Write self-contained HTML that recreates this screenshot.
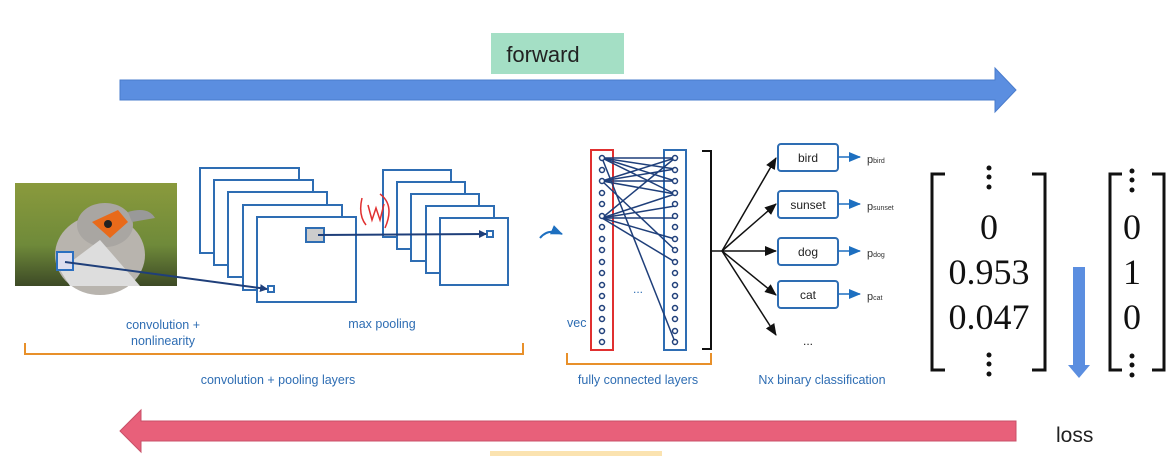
<!DOCTYPE html>
<html><head><meta charset="utf-8"><style>
html,body{margin:0;padding:0;background:#fff;}
svg{display:block;}
</style></head><body>
<svg width="1176" height="456" viewBox="0 0 1176 456" xmlns="http://www.w3.org/2000/svg" font-family="Liberation Sans, sans-serif">
<defs>
<linearGradient id="bg" x1="0" y1="0" x2="0" y2="1"><stop offset="0" stop-color="#8a9a3c"/><stop offset="0.6" stop-color="#6f8a3a"/><stop offset="1" stop-color="#3d4a26"/></linearGradient>
<marker id="ah" markerWidth="8" markerHeight="8" refX="7" refY="4" orient="auto" markerUnits="userSpaceOnUse"><path d="M0,0 L8,4 L0,8 z" fill="#1f3f7a"/></marker>
<marker id="bk" markerWidth="12" markerHeight="10" refX="11" refY="5" orient="auto" markerUnits="userSpaceOnUse"><path d="M0,0 L12,5 L0,10 z" fill="#111"/></marker>
<marker id="bl" markerWidth="12" markerHeight="10" refX="11" refY="5" orient="auto" markerUnits="userSpaceOnUse"><path d="M0,0 L12,5 L0,10 z" fill="#1d6fc0"/></marker>
</defs>
<rect x="491" y="33" width="133" height="41" fill="#a4dfc5"/>
<text x="543" y="62" font-size="22" text-anchor="middle" fill="#222">forward</text>
<path d="M120,80 H995 V68 L1016,90 L995,112 V100 H120 Z" fill="#5b8ee0" stroke="#4a7ccc" stroke-width="1"/>
<path d="M1016,421 H141 V410 L120,431 L141,452 V441 H1016 Z" fill="#e8607a" stroke="#c85068" stroke-width="1"/>
<text x="1056" y="442" font-size="21" fill="#222">loss</text>
<rect x="490" y="451" width="172" height="5" fill="#fbe3b0"/>
<rect x="15" y="183" width="162" height="103" fill="url(#bg)"/>
<ellipse cx="100" cy="255" rx="45" ry="40" fill="#b8b4ae"/>
<ellipse cx="105" cy="225" rx="28" ry="22" fill="#a9a6a2"/>
<path d="M92,222 L118,210 L128,222 L110,238 Z" fill="#e86a1a"/>
<circle cx="108" cy="224" r="4" fill="#222"/>
<path d="M128,212 Q148,206 155,218 L132,222 Z" fill="#999"/>
<path d="M60,270 L100,240 L140,286 L70,286 Z" fill="#ddd"/>
<rect x="57" y="252" width="16" height="18" fill="#dde" stroke="#2b6fc0" stroke-width="2"/>
<g fill="#fff" stroke="#2e6db3" stroke-width="2">
<rect x="200" y="168" width="99" height="85"/>
<rect x="214" y="180" width="99" height="85"/>
<rect x="228" y="192" width="99" height="85"/>
<rect x="243" y="205" width="99" height="85"/>
<rect x="257" y="217" width="99" height="85"/>
<rect x="268" y="286" width="6" height="6"/>
<rect x="383" y="170" width="68" height="67"/>
<rect x="397" y="182" width="68" height="67"/>
<rect x="411" y="194" width="68" height="67"/>
<rect x="426" y="206" width="68" height="67"/>
<rect x="440" y="218" width="68" height="67"/>
<rect x="487" y="231" width="6" height="6"/>
<rect x="306" y="228" width="18" height="14" fill="#ccc"/>
</g>
<line x1="65" y1="262" x2="267" y2="289" stroke="#1f3f7a" stroke-width="2" marker-end="url(#ah)"/>
<line x1="318" y1="235" x2="486" y2="234" stroke="#1f3f7a" stroke-width="2" marker-end="url(#ah)"/>
<path d="M362,198 Q358,215 366,225 M368,205 L372,220 L376,208 L380,220 L384,204 M380,194 Q395,205 385,228" fill="none" stroke="#e03030" stroke-width="1.5"/>
<g fill="#2e6db3" font-size="12.5" text-anchor="middle">
<text x="163" y="329">convolution +</text>
<text x="163" y="345">nonlinearity</text>
<text x="382" y="328">max pooling</text>
<text x="278" y="384">convolution + pooling layers</text>
<text x="567" y="327" text-anchor="start">vec</text>
<text x="638" y="384">fully connected layers</text>
<text x="822" y="384">Nx binary classification</text>
</g>
<path d="M25,343 V354 H523 V343" fill="none" stroke="#e8902a" stroke-width="2"/>
<path d="M567,353 V364 H711 V353" fill="none" stroke="#e8902a" stroke-width="2"/>
<path d="M540,238 Q548,228 562,234" fill="none" stroke="#1d6fc0" stroke-width="2" marker-end="url(#bl)"/>
<rect x="591" y="150" width="22" height="200" fill="none" stroke="#e03030" stroke-width="2"/>
<rect x="664" y="150" width="22" height="200" fill="none" stroke="#2e6db3" stroke-width="2"/>
<g stroke="#1f3f7a" stroke-width="1.5">
<line x1="602" y1="158" x2="675" y2="158"/><line x1="602" y1="158" x2="675" y2="181"/><line x1="602" y1="158" x2="675" y2="194"/><line x1="602" y1="158" x2="675" y2="169"/><line x1="602" y1="158" x2="675" y2="342"/>
<line x1="602" y1="181" x2="675" y2="158"/><line x1="602" y1="181" x2="675" y2="181"/><line x1="602" y1="181" x2="675" y2="169"/><line x1="602" y1="181" x2="675" y2="194"/><line x1="602" y1="181" x2="675" y2="250"/>
<line x1="602" y1="218" x2="675" y2="158"/><line x1="602" y1="218" x2="675" y2="206"/><line x1="602" y1="218" x2="675" y2="218"/><line x1="602" y1="218" x2="675" y2="239"/><line x1="602" y1="218" x2="675" y2="262"/><line x1="602" y1="218" x2="675" y2="194"/>
</g>
<g fill="#fff" stroke="#1f3f7a" stroke-width="1.5">
<circle cx="602" cy="158" r="2.5"/><circle cx="602" cy="170" r="2.5"/><circle cx="602" cy="181" r="2.5"/><circle cx="602" cy="193" r="2.5"/><circle cx="602" cy="204" r="2.5"/><circle cx="602" cy="216" r="2.5"/><circle cx="602" cy="227" r="2.5"/><circle cx="602" cy="239" r="2.5"/><circle cx="602" cy="250" r="2.5"/><circle cx="602" cy="262" r="2.5"/><circle cx="602" cy="273" r="2.5"/><circle cx="602" cy="285" r="2.5"/><circle cx="602" cy="296" r="2.5"/><circle cx="602" cy="308" r="2.5"/><circle cx="602" cy="319" r="2.5"/><circle cx="602" cy="331" r="2.5"/><circle cx="602" cy="342" r="2.5"/>
<circle cx="675" cy="158" r="2.5"/><circle cx="675" cy="170" r="2.5"/><circle cx="675" cy="181" r="2.5"/><circle cx="675" cy="193" r="2.5"/><circle cx="675" cy="204" r="2.5"/><circle cx="675" cy="216" r="2.5"/><circle cx="675" cy="227" r="2.5"/><circle cx="675" cy="239" r="2.5"/><circle cx="675" cy="250" r="2.5"/><circle cx="675" cy="262" r="2.5"/><circle cx="675" cy="273" r="2.5"/><circle cx="675" cy="285" r="2.5"/><circle cx="675" cy="296" r="2.5"/><circle cx="675" cy="308" r="2.5"/><circle cx="675" cy="319" r="2.5"/><circle cx="675" cy="331" r="2.5"/><circle cx="675" cy="342" r="2.5"/>
</g>
<text x="638" y="293" font-size="12" fill="#2e6db3" text-anchor="middle">...</text>
<path d="M702,151 H711 V349 H702" fill="none" stroke="#111" stroke-width="2"/>
<g stroke="#111" stroke-width="1.5">
<line x1="722" y1="251" x2="776" y2="158" marker-end="url(#bk)"/>
<line x1="722" y1="251" x2="776" y2="204" marker-end="url(#bk)"/>
<line x1="722" y1="251" x2="776" y2="251" marker-end="url(#bk)"/>
<line x1="722" y1="251" x2="776" y2="295" marker-end="url(#bk)"/>
<line x1="722" y1="251" x2="776" y2="335" marker-end="url(#bk)"/>
<line x1="711" y1="251" x2="722" y2="251"/>
</g>
<g fill="#fff" stroke="#2e6db3" stroke-width="2">
<rect x="778" y="144" width="60" height="27" rx="3"/>
<rect x="778" y="191" width="60" height="27" rx="3"/>
<rect x="778" y="238" width="60" height="27" rx="3"/>
<rect x="778" y="281" width="60" height="27" rx="3"/>
</g>
<g stroke="#1d6fc0" stroke-width="1.5">
<line x1="838" y1="157" x2="860" y2="157" marker-end="url(#bl)"/>
<line x1="838" y1="204" x2="860" y2="204" marker-end="url(#bl)"/>
<line x1="838" y1="251" x2="860" y2="251" marker-end="url(#bl)"/>
<line x1="838" y1="294" x2="860" y2="294" marker-end="url(#bl)"/>
</g>
<g font-size="12" fill="#222" text-anchor="middle">
<text x="808" y="162">bird</text><text x="808" y="209">sunset</text><text x="808" y="256">dog</text><text x="808" y="299">cat</text>
<text x="808" y="345">...</text>
</g>
<g font-size="11" fill="#333">
<text x="867" y="163">p<tspan font-size="7">bird</tspan></text>
<text x="867" y="210">p<tspan font-size="7">sunset</tspan></text>
<text x="867" y="257">p<tspan font-size="7">dog</tspan></text>
<text x="867" y="300">p<tspan font-size="7">cat</tspan></text>
</g>
<g fill="none" stroke="#111" stroke-width="3">
<path d="M945,174 H932 V370 H945"/><path d="M1032,174 H1045 V370 H1032"/>
<path d="M1122,174 H1110 V370 H1122"/><path d="M1152,174 H1164 V370 H1152"/>
</g>
<g fill="#111">
<circle cx="989" cy="168" r="2.5"/><circle cx="989" cy="177" r="2.5"/><circle cx="989" cy="187" r="2.5"/>
<circle cx="989" cy="355" r="2.5"/><circle cx="989" cy="364" r="2.5"/><circle cx="989" cy="374" r="2.5"/>
<circle cx="1132" cy="171" r="2.5"/><circle cx="1132" cy="180" r="2.5"/><circle cx="1132" cy="190" r="2.5"/>
<circle cx="1132" cy="356" r="2.5"/><circle cx="1132" cy="365" r="2.5"/><circle cx="1132" cy="375" r="2.5"/>
</g>
<g font-family="Liberation Serif, serif" font-size="36" fill="#111" text-anchor="middle">
<text x="989" y="239">0</text><text x="989" y="284">0.953</text><text x="989" y="329">0.047</text>
<text x="1132" y="239">0</text><text x="1132" y="284">1</text><text x="1132" y="329">0</text>
</g>
<path d="M1073,267 H1085 V365 H1090 L1079,378 L1068,365 H1073 Z" fill="#5b8ee0"/>
</svg>
</body></html>
